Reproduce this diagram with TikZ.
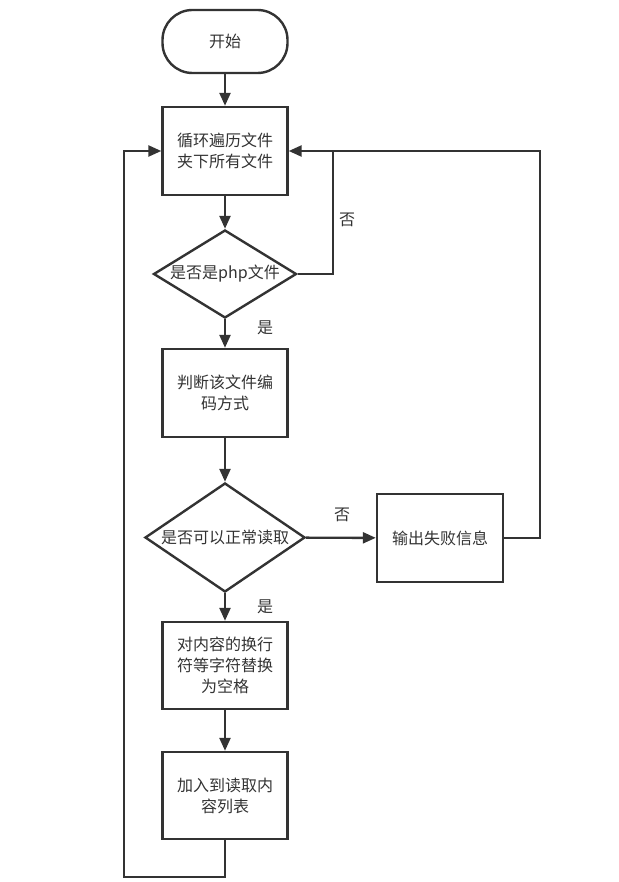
\documentclass[tikz,border=0pt]{standalone}
\usepackage{fontspec}
\setmainfont{Noto Sans CJK SC}
\usetikzlibrary{shapes.geometric,arrows.meta}
\definecolor{ink}{HTML}{333333}
\begin{document}
\begin{tikzpicture}[x=1pt,y=-1pt,
  every node/.style={text=ink,font=\fontsize{16}{21}\selectfont},
  box/.style={draw=ink,line width=2.4pt,rectangle,minimum width=125pt,minimum height=88pt,inner sep=0pt,align=center},
  term/.style={draw=ink,line width=2.4pt,rectangle,rounded corners=30pt,minimum width=125pt,minimum height=63pt,inner sep=0pt},
  dia/.style={draw=ink,line width=2.4pt,diamond,inner sep=0pt},
  arr/.style={draw=ink,line width=2.4pt,-{Triangle[length=13pt,width=11pt]}},
  ln/.style={draw=ink,line width=2.4pt},
  lbl/.style={inner sep=0pt}]
\useasboundingbox (0,0) rectangle (618,882);
\node[term] (start) at (225,41.5) {开始};
\node[box] (b1) at (225,151) {循环遍历文件\\夹下所有文件};
\node[dia,minimum width=143pt,minimum height=88pt] (d1) at (225,274) {\makebox[0pt]{是否是php文件}};
\node[box] (b2) at (225,393) {判断该文件编\\码方式};
\node[dia,minimum width=160pt,minimum height=109pt] (d2) at (225,537.5) {\makebox[0pt]{是否可以正常读取}};
\node[box,minimum width=126pt] (f) at (440,538) {输出失败信息};
\node[box,minimum height=87pt] (b4) at (225,665.5) {对内容的换行\\符等字符替换\\为空格};
\node[box,minimum height=87pt] (b5) at (225,795.5) {加入到读取内\\容列表};
\coordinate (j) at (333,151);
\coordinate (fr) at (540,151);
\coordinate (ll) at (124,877);
\draw[arr] (start) -- (b1);
\draw[arr] (b1) -- (d1);
\draw[arr] (d1) -- (b2);
\draw[arr] (b2) -- (d2);
\draw[arr] (d2) -- (b4);
\draw[arr] (b4) -- (b5);
\draw[arr] (d2) -- (f);
\draw[arr] (d1.east) -| (j) -- (b1.east);
\draw[ln] (f.east) -| (fr) -- (j);
\draw[arr] (b5.south) |- (ll) |- (b1.west);
\node[lbl] (n1) at (347,220) {否};
\node[lbl] (y1) at (265,328) {是};
\node[lbl] (n2) at (342,515) {否};
\node[lbl] (y2) at (265,607) {是};
\end{tikzpicture}
\end{document}
